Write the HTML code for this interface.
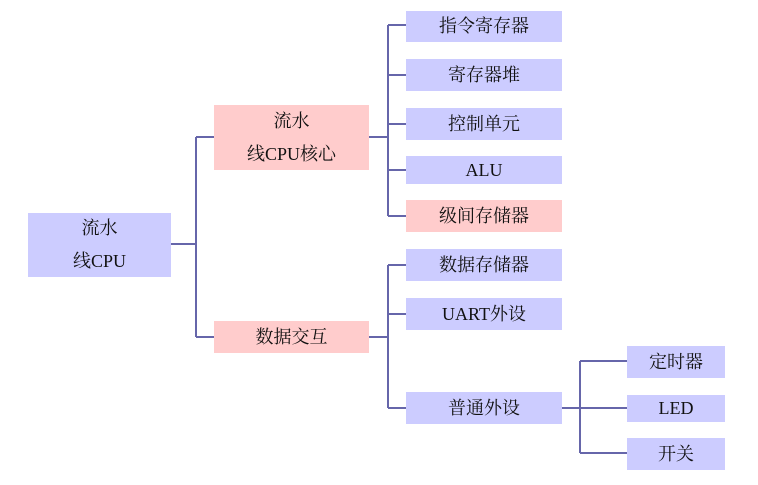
<!DOCTYPE html>
<html><head><meta charset="utf-8"><style>
body{margin:0;width:758px;height:485px;background:#fff;position:relative;overflow:hidden;font-family:"Liberation Serif","Noto Serif CJK SC",serif;font-size:18px;color:#111}
.b{position:absolute;display:flex;align-items:center;justify-content:center;text-align:center;background:#ccccff;line-height:33px}
.p{background:#ffcccc}
svg{position:absolute;left:0;top:0}
</style></head><body>
<svg width="758" height="485"><g stroke="#6666aa" stroke-width="2" fill="none">
<path d="M171 244H196M196 137V337M196 137H214M196 337H214"/>
<path d="M369 137H388M388 25V216M388 25H406M388 75H406M388 124H406M388 170H406M388 216H406"/>
<path d="M369 337H388M388 265V408M388 265H406M388 314H406M388 408H406"/>
<path d="M562 408H580M580 361V453M580 361H627M580 408H627M580 453H627"/>
</g></svg>
<div class="b" style="left:28px;top:213px;width:143px;height:64px">流水<br>线CPU</div>
<div class="b p" style="left:214px;top:105px;width:155px;height:65px">流水<br>线CPU核心</div>
<div class="b p" style="left:214px;top:321px;width:155px;height:32px">数据交互</div>
<div class="b" style="left:406px;top:11px;width:156px;height:31px">指令寄存器</div>
<div class="b" style="left:406px;top:59px;width:156px;height:32px">寄存器堆</div>
<div class="b" style="left:406px;top:108px;width:156px;height:32px">控制单元</div>
<div class="b" style="left:406px;top:156px;width:156px;height:28px">ALU</div>
<div class="b p" style="left:406px;top:200px;width:156px;height:32px">级间存储器</div>
<div class="b" style="left:406px;top:249px;width:156px;height:32px">数据存储器</div>
<div class="b" style="left:406px;top:298px;width:156px;height:32px">UART外设</div>
<div class="b" style="left:406px;top:392px;width:156px;height:32px">普通外设</div>
<div class="b" style="left:627px;top:346px;width:98px;height:32px">定时器</div>
<div class="b" style="left:627px;top:395px;width:98px;height:27px">LED</div>
<div class="b" style="left:627px;top:438px;width:98px;height:32px">开关</div>
</body></html>
